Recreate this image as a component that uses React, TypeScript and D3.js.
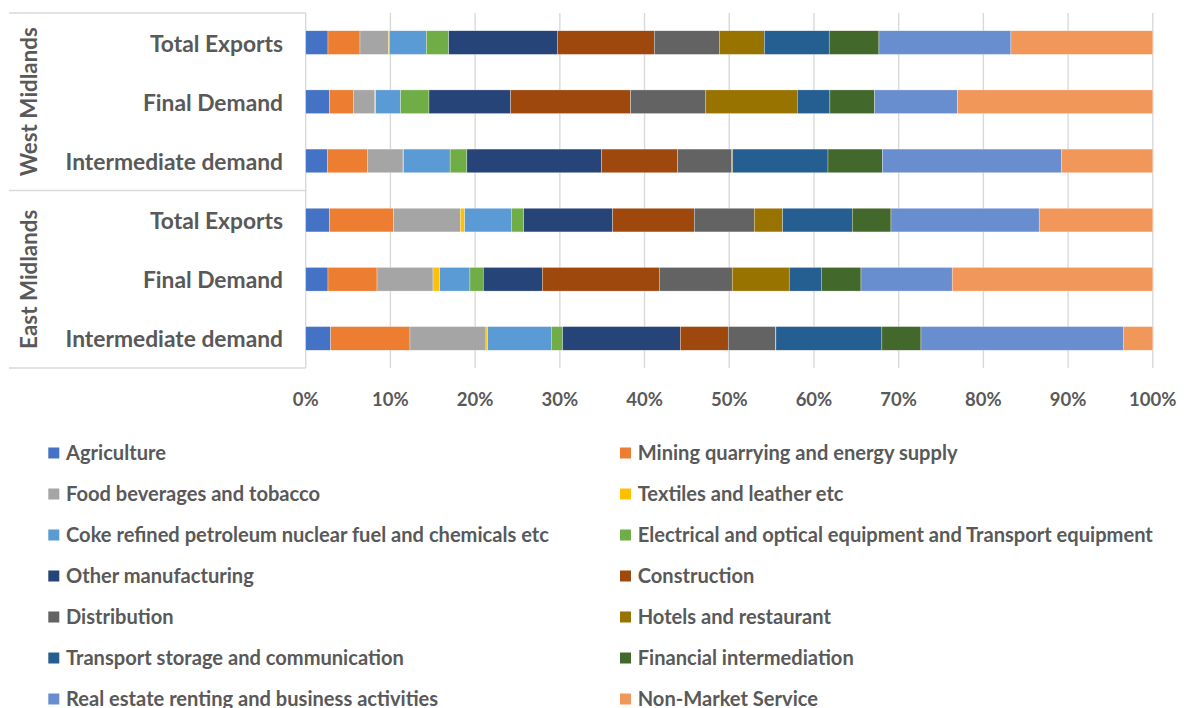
import React from "react";
import * as d3 from "d3";

// Rows, top to bottom: region group + demand type
const regions = ["West Midlands", "East Midlands"];
const demandTypes = ["Total Exports", "Final Demand", "Intermediate demand"];
const rowKeys = [
  "WM|Total Exports", "WM|Final Demand", "WM|Intermediate demand",
  "EM|Total Exports", "EM|Final Demand", "EM|Intermediate demand",
];

const sectors = [
  "Agriculture",
  "Mining quarrying and energy supply",
  "Food beverages and tobacco",
  "Textiles and leather etc",
  "Coke refined petroleum nuclear fuel and chemicals etc",
  "Electrical and optical equipment and Transport equipment",
  "Other manufacturing",
  "Construction",
  "Distribution",
  "Hotels and restaurant",
  "Transport storage and communication",
  "Financial intermediation",
  "Real estate renting and business activities",
  "Non-Market Service",
];

const sectorColors = [
  "#4472C4", "#ED7D31", "#A5A5A5", "#FFC000", "#5B9BD5", "#70AD47", "#264478",
  "#9E480E", "#636363", "#997300", "#255E91", "#43682B", "#698ED0", "#F1975A",
];

// Shares (%) per sector, in row order
const agriculture = [2.63, 2.79, 2.55, 2.79, 2.63, 2.95];
const mining = [3.78, 2.83, 4.72, 7.6, 5.79, 9.36];
const food = [3.36, 2.54, 4.2, 7.86, 6.61, 8.97];
const textiles = [0.1, 0.1, 0.05, 0.52, 0.79, 0.2];
const coke = [4.37, 2.92, 5.5, 5.5, 3.57, 7.51];
const electrical = [2.64, 3.36, 1.97, 1.46, 1.58, 1.34];
const otherManufacturing = [12.82, 9.63, 15.85, 10.51, 6.96, 13.89];
const construction = [11.45, 14.16, 8.97, 9.63, 13.81, 5.66];
const distribution = [7.67, 8.86, 6.35, 7.08, 8.61, 5.55];
const hotels = [5.32, 10.78, 0.15, 3.35, 6.73, 0.08];
const transport = [7.66, 3.85, 11.23, 8.22, 3.78, 12.51];
const financial = [5.87, 5.28, 6.41, 4.57, 4.69, 4.61];
const realEstate = [15.58, 9.76, 21.13, 17.5, 10.77, 23.88];
const nonMarket = [16.75, 23.04, 10.73, 13.41, 23.68, 3.49];

const seriesValues = [
  agriculture, mining, food, textiles, coke, electrical, otherManufacturing,
  construction, distribution, hotels, transport, financial, realEstate, nonMarket,
];

const xTicks = [0, 0.1, 0.2, 0.3, 0.4, 0.5, 0.6, 0.7, 0.8, 0.9, 1];

const FONT = "Lato, 'Open Sans', sans-serif";
const TEXT = "#595959";
const GRID = "#D9D9D9";

export default function App() {
  const width = 1186;
  const height = 708;
  const plotLeft = 305.7;
  const plotRight = 1152.8;
  const plotTop = 13;
  const plotBottom = 368;
  const axisBoxLeft = 9;

  const x = d3.scaleLinear().domain([0, 1]).range([plotLeft, plotRight]);
  const y = d3
    .scaleBand<string>()
    .domain(rowKeys)
    .range([plotTop, plotBottom])
    .paddingInner(0.6)
    .paddingOuter(0.3);

  const table = rowKeys.map((k, i) => {
    const row: Record<string, number | string> = { key: k };
    sectors.forEach((s, j) => (row[s] = seriesValues[j][i]));
    return row;
  });

  const stacked = d3
    .stack<any>()
    .keys(sectors)
    .offset(d3.stackOffsetExpand)(table);

  const step = y.step();
  const groupEdges = [plotTop, plotTop + step * 3, plotBottom];

  const fmt = d3.format(".0%");

  // Legend: two columns, row-major order
  const legendRowY = (i: number) => 453 + Math.floor(i / 2) * 41;
  const legendColX = [48.3, 620];

  return (
    <svg width={width} height={height} style={{ display: "block", position: "absolute", left: 0, top: 0 }}>
      <rect width={width} height={height} fill="#fff" />

      {/* vertical gridlines */}
      {xTicks.map((t) => (
        <line key={t} x1={x(t)} x2={x(t)} y1={plotTop} y2={plotBottom} stroke={GRID} strokeWidth={1.4} />
      ))}

      {/* category axis group separators */}
      {groupEdges.map((gy, i) => (
        <line key={i} x1={axisBoxLeft} x2={plotLeft} y1={gy} y2={gy} stroke={GRID} strokeWidth={1.4} />
      ))}

      {/* stacked bars */}
      {stacked.map((layer, si) => (
        <g key={sectors[si]} fill={sectorColors[si]}>
          {layer.map((d, ri) => (
            <rect
              key={ri}
              x={x(d[0])}
              width={Math.max(0, x(d[1]) - x(d[0]))}
              y={y(rowKeys[ri])}
              height={y.bandwidth()}
              stroke="#fff"
              strokeWidth={0.5}
              strokeOpacity={0.6}
            />
          ))}
        </g>
      ))}

      {/* demand type labels */}
      {rowKeys.map((k, i) => (
        <text
          key={k}
          x={283}
          y={(y(k) as number) + y.bandwidth() / 2}
          textAnchor="end"
          dominantBaseline="central"
          fontFamily={FONT}
          fontWeight={700}
          fontSize={22.8}
          fill={TEXT}
        >
          {demandTypes[i % 3]}
        </text>
      ))}

      {/* region labels */}
      {regions.map((r, i) => {
        const cy = (groupEdges[i] + groupEdges[i + 1]) / 2;
        return (
          <text
            key={r}
            transform={`translate(28,${cy}) rotate(-90)`}
            textAnchor="middle"
            dominantBaseline="central"
            fontFamily={FONT}
            fontWeight={700}
            fontSize={22.4}
            fill={TEXT}
          >
            {r}
          </text>
        );
      })}

      {/* x axis tick labels */}
      {xTicks.map((t) => (
        <text
          key={t}
          x={x(t)}
          y={406}
          textAnchor="middle"
          fontFamily={FONT}
          fontWeight={700}
          fontSize={18.5}
          fill={TEXT}
        >
          {fmt(t)}
        </text>
      ))}

      {/* legend */}
      {sectors.map((s, i) => {
        const lx = legendColX[i % 2];
        const ly = legendRowY(i);
        return (
          <g key={s}>
            <rect x={lx} y={ly - 5.5} width={11} height={11} fill={sectorColors[i]} />
            <text
              x={lx + 17.7}
              y={ly - 1}
              dominantBaseline="central"
              fontFamily={FONT}
              fontWeight={700}
              fontSize={20.1}
              fill={TEXT}
            >
              {s}
            </text>
          </g>
        );
      })}
    </svg>
  );
}
